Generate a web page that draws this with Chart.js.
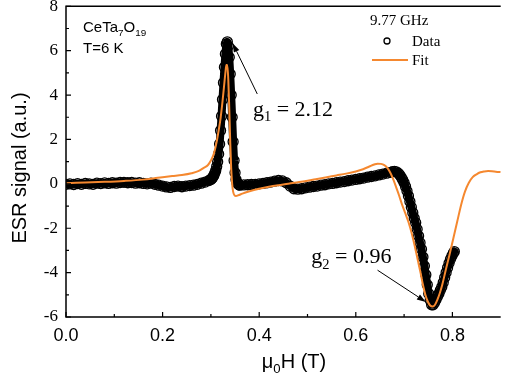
<!DOCTYPE html>
<html>
<head>
<meta charset="utf-8">
<script src="https://cdn.jsdelivr.net/npm/chart.js@4"></script>
<style>
  html, body { margin: 0; padding: 0; background: #fff; }
  canvas { display: block; }
</style>
</head>
<body>
<canvas id="myChart" width="507" height="379"></canvas>
<script>
// measured ESR data (field in T, signal in a.u.)
const dataField = [
  0.000, 0.008, 0.016, 0.024, 0.032, 0.040, 0.048, 0.056, 0.064, 0.072,
  0.080, 0.088, 0.096, 0.104, 0.112, 0.120, 0.128, 0.136, 0.144, 0.152,
  0.160, 0.168, 0.176, 0.184, 0.192, 0.200, 0.208, 0.216, 0.224, 0.232,
  0.240, 0.248, 0.256, 0.264, 0.272, 0.280, 0.288, 0.296,
  0.300, 0.302, 0.304, 0.306, 0.308, 0.310, 0.312, 0.314, 0.316, 0.318,
  0.320, 0.322, 0.324, 0.326, 0.328, 0.330, 0.332, 0.334, 0.336, 0.338,
  0.340, 0.342, 0.344, 0.346, 0.348, 0.350, 0.352, 0.354, 0.356, 0.358, 0.360,
  0.368, 0.376, 0.384, 0.392, 0.400, 0.408, 0.416, 0.424, 0.432, 0.440,
  0.448, 0.456, 0.464, 0.472, 0.480, 0.488, 0.496, 0.504, 0.512, 0.520,
  0.528, 0.536, 0.544, 0.552, 0.560, 0.568, 0.576, 0.584, 0.592, 0.600,
  0.608, 0.616, 0.624, 0.632, 0.640, 0.648, 0.656, 0.664, 0.672,
  0.676, 0.680, 0.684, 0.688, 0.691, 0.694, 0.697, 0.700, 0.703, 0.706,
  0.709, 0.712, 0.715, 0.718, 0.721, 0.724, 0.727, 0.730, 0.733, 0.736,
  0.739, 0.742, 0.745, 0.748, 0.751, 0.754, 0.757, 0.760, 0.763, 0.766,
  0.769, 0.772, 0.775, 0.778, 0.781, 0.784, 0.787, 0.790, 0.793, 0.796,
  0.799, 0.802, 0.804
];
const dataSignal = [
  -0.02, 0.00, -0.03, 0.01, -0.02, 0.02, 0.00, -0.02, 0.03, 0.01,
  0.04, 0.02, 0.05, 0.03, 0.06, 0.07, 0.05, 0.06, 0.03, 0.05,
  0.02, 0.00, 0.03, -0.02, -0.06, -0.10, -0.14, -0.16, -0.12, -0.10,
  -0.13, -0.10, -0.08, -0.06, -0.02, 0.03, 0.08, 0.15,
  0.20, 0.24, 0.30, 0.38, 0.48, 0.60, 0.78, 1.00, 1.35, 1.80,
  2.40, 3.05, 3.80, 4.55, 5.25, 5.85, 6.30, 6.40, 6.20, 5.70,
  4.95, 4.00, 3.00, 1.90, 1.05, 0.50, 0.20, 0.05, 0.00, -0.04, -0.06,
  -0.05, -0.04, -0.03, -0.02, 0.00, 0.02, 0.05, 0.08, 0.12, 0.15,
  0.13, 0.05, -0.10, -0.22, -0.24, -0.22, -0.18, -0.15, -0.12, -0.10,
  -0.06, -0.04, 0.00, 0.02, 0.05, 0.08, 0.10, 0.14, 0.17, 0.20,
  0.23, 0.26, 0.30, 0.33, 0.36, 0.40, 0.44, 0.48, 0.52,
  0.55, 0.56, 0.54, 0.48, 0.40, 0.30, 0.18, 0.05, -0.12, -0.32,
  -0.55, -0.80, -1.05, -1.30, -1.55, -1.75, -2.05, -2.35, -2.65, -2.95,
  -3.30, -3.70, -4.10, -4.55, -4.95, -5.25, -5.45, -5.45, -5.35, -5.22,
  -5.08, -4.95, -4.80, -4.65, -4.45, -4.22, -4.00, -3.78, -3.58, -3.40,
  -3.25, -3.12, -3.05
];

// fit curve
const fitField = [
  0.000, 0.040, 0.080, 0.120, 0.160, 0.190, 0.220, 0.240, 0.260, 0.275,
  0.285, 0.294, 0.300, 0.306, 0.312, 0.316, 0.320, 0.324, 0.327, 0.330,
  0.332, 0.334, 0.336, 0.338, 0.340, 0.342, 0.344, 0.346, 0.349, 0.352,
  0.356, 0.362, 0.370, 0.380, 0.400, 0.420, 0.440, 0.460, 0.480, 0.500,
  0.520, 0.540, 0.560, 0.580, 0.600, 0.615, 0.628, 0.638, 0.645, 0.652,
  0.659, 0.666, 0.672, 0.678, 0.684, 0.690, 0.696, 0.702, 0.709, 0.716,
  0.722, 0.728, 0.734, 0.739, 0.744, 0.749, 0.754, 0.759, 0.764, 0.769,
  0.774, 0.779, 0.786, 0.794, 0.802, 0.810, 0.818, 0.826, 0.834, 0.842,
  0.850, 0.858, 0.866, 0.874, 0.882, 0.890, 0.900
];
const fitSignal = [
  0.03, 0.06, 0.09, 0.13, 0.19, 0.27, 0.35, 0.40, 0.48, 0.58,
  0.72, 0.85, 1.05, 1.35, 1.90, 2.40, 2.95, 3.70, 4.35, 5.00,
  5.35, 5.35, 4.70, 3.40, 1.90, 0.70, 0.00, -0.35, -0.52, -0.55,
  -0.52, -0.47, -0.40, -0.33, -0.22, -0.13, -0.06, 0.00, 0.07, 0.14,
  0.22, 0.30, 0.38, 0.46, 0.56, 0.66, 0.78, 0.87, 0.91, 0.90,
  0.84, 0.70, 0.48, 0.18, -0.18, -0.55, -0.95, -1.30, -1.72, -2.25,
  -2.80, -3.40, -4.00, -4.55, -5.00, -5.30, -5.48, -5.53, -5.45, -5.22,
  -4.92, -4.55, -3.90, -3.20, -2.45, -1.70, -0.95, -0.35, 0.05, 0.30,
  0.43, 0.52, 0.56, 0.58, 0.57, 0.55, 0.53
];

// axis ticks
const xTicks = [0.0, 0.2, 0.4, 0.6, 0.8];
const xMinor = [0.1, 0.3, 0.5, 0.7];
const yTicks = [-6, -4, -2, 0, 2, 4, 6, 8];
const yMinor = [-5, -3, -1, 1, 3, 5, 7];

const SANS = "'Liberation Sans', Arial, sans-serif";
const SERIF = "'Liberation Serif', 'Times New Roman', serif";
const ORANGE = '#F5882F';

// draws text with subscript pieces, returns width
function richText(ctx, parts, x, y, size, family, measureOnly) {
  let w = 0;
  parts.forEach(function (p) {
    const s = p[1] ? size * 0.66 : size;
    ctx.font = s + 'px ' + family;
    if (!measureOnly) ctx.fillText(p[0], x + w, p[1] ? y + size * 0.25 : y);
    w += ctx.measureText(p[0]).width;
  });
  return w;
}

function arrow(ctx, x1, y1, x2, y2) {
  const ang = Math.atan2(y2 - y1, x2 - x1);
  const hl = 9, hw = 3;
  ctx.beginPath();
  ctx.moveTo(x1, y1);
  ctx.lineTo(x2 - hl * Math.cos(ang), y2 - hl * Math.sin(ang));
  ctx.stroke();
  ctx.beginPath();
  ctx.moveTo(x2, y2);
  ctx.lineTo(x2 - hl * Math.cos(ang) + hw * Math.sin(ang), y2 - hl * Math.sin(ang) - hw * Math.cos(ang));
  ctx.lineTo(x2 - hl * Math.cos(ang) - hw * Math.sin(ang), y2 - hl * Math.sin(ang) + hw * Math.cos(ang));
  ctx.closePath();
  ctx.fill();
}

// frame, inward ticks, labels and annotations
const extras = {
  id: 'extras',
  afterDatasetsDraw(chart) {
    const ctx = chart.ctx, a = chart.chartArea;
    const xs = chart.scales.x, ys = chart.scales.y;
    ctx.save();
    ctx.strokeStyle = '#000';
    ctx.fillStyle = '#000';
    ctx.lineWidth = 1.5;
    ctx.beginPath();
    ctx.moveTo(a.right, a.top); ctx.lineTo(a.left, a.top);
    ctx.lineTo(a.left, a.bottom); ctx.lineTo(a.right, a.bottom);
    ctx.stroke();

    ctx.lineWidth = 1.2;
    ctx.beginPath();
    xTicks.forEach(v => { const p = xs.getPixelForValue(v); ctx.moveTo(p, a.bottom); ctx.lineTo(p, a.bottom - 5); });
    xMinor.forEach(v => { const p = xs.getPixelForValue(v); ctx.moveTo(p, a.bottom); ctx.lineTo(p, a.bottom - 3); });
    yTicks.forEach(v => { const p = ys.getPixelForValue(v); ctx.moveTo(a.left, p); ctx.lineTo(a.left + 5, p); });
    yMinor.forEach(v => { const p = ys.getPixelForValue(v); ctx.moveTo(a.left, p); ctx.lineTo(a.left + 3, p); });
    ctx.stroke();

    // axis titles
    ctx.textBaseline = 'alphabetic';
    ctx.textAlign = 'left';
    const xt = [['\u03bc', false], ['0', true], ['H (T)', false]];
    const w = richText(ctx, xt, 0, 0, 20, SANS, true);
    richText(ctx, xt, 294 - w / 2, 368, 20, SANS);

    ctx.save();
    ctx.translate(26, 168);
    ctx.rotate(-Math.PI / 2);
    ctx.textAlign = 'center';
    ctx.font = '20px ' + SANS;
    ctx.fillText('ESR signal (a.u.)', 0, 0);
    ctx.restore();

    // sample info
    richText(ctx, [['CeTa', false], ['7', true], ['O', false], ['19', true]], 83, 32, 15, SANS);
    richText(ctx, [['T=6 K', false]], 83, 53, 15, SANS);

    // legend
    richText(ctx, [['9.77 GHz', false]], 370, 25, 15, SERIF);
    richText(ctx, [['Data', false]], 412, 46, 15, SERIF);
    richText(ctx, [['Fit', false]], 412, 65, 15, SERIF);
    ctx.lineWidth = 1.3;
    ctx.beginPath(); ctx.arc(387, 41, 3, 0, Math.PI * 2); ctx.stroke();
    ctx.strokeStyle = ORANGE; ctx.lineWidth = 2;
    ctx.beginPath(); ctx.moveTo(372, 60); ctx.lineTo(408, 60); ctx.stroke();

    // g-factor annotations
    ctx.strokeStyle = '#000'; ctx.lineWidth = 1;
    richText(ctx, [['g', false], ['1', true], [' = 2.12', false]],
      xs.getPixelForValue(0.387), ys.getPixelForValue(3.06), 22, SERIF);
    richText(ctx, [['g', false], ['2', true], [' = 0.96', false]],
      xs.getPixelForValue(0.508), ys.getPixelForValue(-3.58), 22, SERIF);
    arrow(ctx, xs.getPixelForValue(0.396), ys.getPixelForValue(4.05),
      xs.getPixelForValue(0.345), ys.getPixelForValue(6.34));
    arrow(ctx, xs.getPixelForValue(0.645), ys.getPixelForValue(-3.89),
      xs.getPixelForValue(0.745), ys.getPixelForValue(-5.32));
    ctx.restore();
  }
};

const config = {
  type: 'scatter',
  data: {
    datasets: [{
      label: 'Fit',
      data: fitField.map((x, i) => ({ x: x, y: fitSignal[i] })),
      showLine: true,
      borderColor: ORANGE,
      borderWidth: 2,
      pointRadius: 0,
      cubicInterpolationMode: 'monotone',
      order: 0
    }, {
      label: 'Data',
      data: dataField.map((x, i) => ({ x: x, y: dataSignal[i] })),
      showLine: true,
      borderColor: '#000',
      borderWidth: 8,
      borderJoinStyle: 'round',
      borderCapStyle: 'round',
      pointRadius: 5,
      pointBorderWidth: 1.3,
      pointBorderColor: '#000',
      pointBackgroundColor: 'rgba(0,0,0,0)',
      order: 1
    }]
  },
  options: {
    responsive: false,
    animation: false,
    layout: { padding: { top: 5, right: 0, left: 0, bottom: 0 } },
    plugins: { legend: { display: false }, tooltip: { enabled: false } },
    scales: {
      x: {
        type: 'linear', min: 0, max: 0.9,
        grid: { display: false, drawTicks: false },
        border: { display: false },
        afterBuildTicks: s => { s.ticks = xTicks.map(v => ({ value: v })); },
        afterFit: s => { s.height = 62; s.paddingLeft = 0; s.paddingRight = 0; },
        ticks: {
          color: '#000', padding: 8,
          font: { family: SANS, size: 18 },
          callback: v => v.toFixed(1)
        }
      },
      y: {
        min: -6, max: 8,
        grid: { display: false, drawTicks: false },
        border: { display: false },
        afterBuildTicks: s => { s.ticks = yTicks.map(v => ({ value: v })); },
        afterFit: s => { s.width = 66; s.paddingTop = 0; s.paddingBottom = 0; },
        ticks: {
          color: '#000', padding: 8,
          font: { family: SERIF, size: 17 }
        }
      }
    }
  },
  plugins: [extras]
};

var myChart = new Chart(document.getElementById('myChart'), config);
</script>
</body>
</html>
